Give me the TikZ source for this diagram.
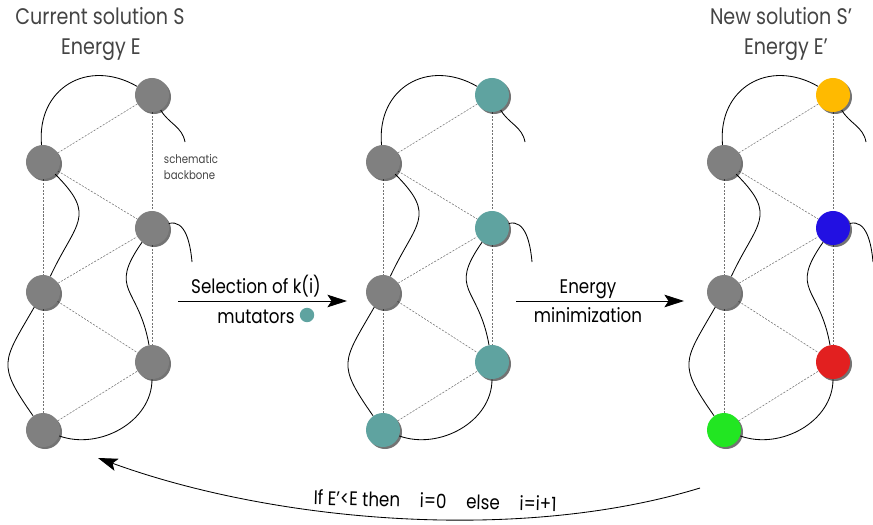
\documentclass[tikz,border=0pt]{standalone}
\usepackage{fontspec}
\setmainfont{Poppins}[FakeStretch=0.85]
\usepackage{tikz}
\usetikzlibrary{arrows,arrows.meta,shapes,positioning,shadows,backgrounds}
\usepackage{xcolor}
\definecolor{resgray}{RGB}{128,128,128}
\definecolor{resteal}{RGB}{95,163,160}
\definecolor{resyellow}{RGB}{255,186,0}
\definecolor{resblue}{RGB}{34,16,226}
\definecolor{resred}{RGB}{226,32,32}
\definecolor{resgreen}{RGB}{34,230,34}
\definecolor{titlegray}{RGB}{68,68,68}
\tikzstyle{residue} = [circle, minimum size=0.85cm, inner sep=0pt, drop shadow={shadow xshift=0.05cm, shadow yshift=-0.05cm, fill=black, opacity=0.55}]
\tikzstyle{contact} = [thin, black!55, dash pattern=on 1.5pt off 1pt]
\tikzstyle{backbone} = [semithick, black]
\tikzstyle{arrow} = [semithick, -{Stealth[length=14pt,width=9pt,inset=3pt]}]
\tikzstyle{title} = [font=\fontsize{16}{20}\selectfont, text=titlegray, anchor=base]
\tikzstyle{steplabel} = [font=\fontsize{14}{16}\selectfont, anchor=base]

\begin{document}
\begin{tikzpicture}[x=0.025cm, y=0.025cm]
\useasboundingbox (0,0) rectangle (873,-525);

% Titles
\node[title] (curtitle) at (100,-25) {Current solution S};
\node[title] (curenergy) at (101,-55) {Energy E};
\node[title] (newtitle) at (781,-25) {New solution S’};
\node[title] (newenergy) at (786,-55) {Energy E’};

% Three solutions
\foreach \g/\dx/\ca/\cb/\cc/\cd/\ce/\cf in {
  1/0/resgray/resgray/resgray/resgray/resgray/resgray,
  2/340/resteal/resgray/resteal/resgray/resteal/resteal,
  3/681/resyellow/resgray/resblue/resgray/resred/resgreen}{
\begin{scope}[shift={(\dx,0)}]
\node[residue, fill=\ca] (a\g) at (152,-95) {};
\node[residue, fill=\cb] (b\g) at (43,-162) {};
\node[residue, fill=\cc] (c\g) at (152,-228) {};
\node[residue, fill=\cd] (d\g) at (43,-292) {};
\node[residue, fill=\ce] (e\g) at (152,-362) {};
\node[residue, fill=\cf] (f\g) at (43,-430) {};
\coordinate (ta\g) at (185,-142);
\coordinate (tc\g) at (192,-262);
\begin{scope}[on background layer]
% contacts
\draw[contact] (b\g) -- (a\g);
\draw[contact] (b\g) -- (c\g);
\draw[contact] (d\g) -- (c\g);
\draw[contact] (d\g) -- (e\g);
\draw[contact] (f\g) -- (e\g);
\draw[contact] (b\g) -- (d\g);
\draw[contact] (d\g) -- (f\g);
\draw[contact] (a\g) -- (c\g);
\draw[contact] (c\g) -- (e\g);
% backbone
\draw[backbone] (a\g) to[out=-60, in=100] (ta\g);
\draw[backbone] (a\g) to[out=150, in=95, looseness=1.3] (b\g);
\draw[backbone] (b\g) to[out=-45, in=65, looseness=1.5] (d\g);
\draw[backbone] (d\g) to[out=-120, in=125, looseness=1.5] (f\g);
\draw[backbone] (f\g) to[out=-20, in=-90] (e\g);
\draw[backbone] (e\g) to[out=100, in=-125, looseness=1.5] (c\g);
\draw[backbone] (c\g) to[out=15, in=95] (tc\g);
\end{scope}
\end{scope}
}

\node[font=\fontsize{8.5}{12}\selectfont, text=titlegray, align=left, anchor=north west] (bbnote) at (159,-149) {schematic\\backbone};

% Step arrows
\coordinate (selstart) at (178,-301);
\coordinate (selend) at (347,-301);
\draw[arrow] (selstart) -- (selend);
\node[steplabel] (seltext) at (256,-293) {Selection of k(i)};
\node[steplabel] (muttext) at (256,-323) {mutators};
\node[circle, fill=resteal, minimum size=0.36cm, inner sep=0pt] (mutdot) at (307,-315) {};

\coordinate (minstart) at (516,-301);
\coordinate (minend) at (684,-301);
\draw[arrow] (minstart) -- (minend);
\node[steplabel] (mintext) at (588,-293) {Energy};
\node[steplabel] (mintext2) at (588,-322) {minimization};

% Loop back
\coordinate (loopstart) at (700,-488);
\coordinate (loopend) at (98,-458);
\draw[arrow] (loopstart) to[out=197, in=-20, looseness=0.8] (loopend);
\node[steplabel, rotate=-1.5] (looptext) at (435,-508) {If E’<E then\quad i=0\quad else\quad i=i+1};
\end{tikzpicture}
\end{document}
